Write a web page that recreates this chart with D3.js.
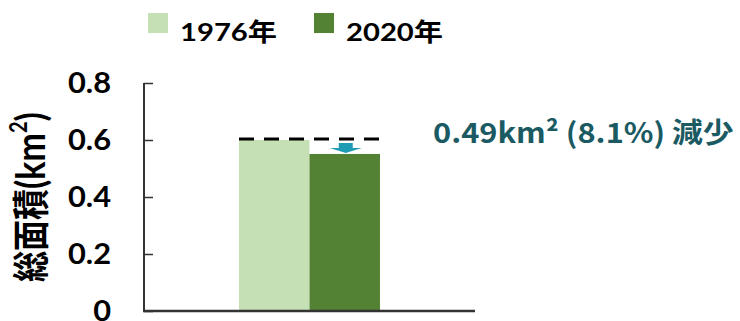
<!DOCTYPE html>
<html><head><meta charset="utf-8">
<script src="https://cdn.jsdelivr.net/npm/d3@7"></script>
<style>body{margin:0;background:#fff}svg{display:block}</style>
</head><body><svg id="c" width="740" height="321"></svg>
<script>
const categories = ["総面積"];
const seriesNames = ["1976年", "2020年"];
const seriesColors = ["#c5e0b4", "#548235"];
const values1976 = [0.60];
const values2020 = [0.551];
const yTicks = [0, 0.2, 0.4, 0.6, 0.8];
const yTickLabels = ["0", "0.2", "0.4", "0.6", "0.8"];
const annotation = "0.49km² (8.1%) 減少";

const svg = d3.select("#c");
const latin = "Lato, 'Noto Sans CJK JP', sans-serif";
const cjk = "'Noto Sans CJK JP', sans-serif";
const y = d3.scaleLinear().domain([0, 0.8]).range([311, 83]);
const x0 = d3.scaleBand().domain(categories).range([144, 475]).paddingInner(0).paddingOuter(0.674);
const x1 = d3.scaleBand().domain(seriesNames).range([0, x0.bandwidth()]);
const series = [values1976, values2020];

// bars
categories.forEach((c, ci) => {
  seriesNames.forEach((s, si) => {
    svg.append("rect")
      .attr("x", x0(c) + x1(s)).attr("width", x1.bandwidth())
      .attr("y", y(series[si][ci])).attr("height", y(0) - y(series[si][ci]))
      .attr("fill", seriesColors[si]);
  });
});

// axes
const yAxis = d3.axisRight(y).tickValues(yTicks).tickSize(9).tickFormat("");
const gy = svg.append("g").attr("transform", "translate(144,0)").call(yAxis);
gy.select(".domain").attr("stroke", "#333").attr("stroke-width", 2).attr("d", "M0,83V311");
gy.selectAll(".tick line").attr("stroke", "#333").attr("stroke-width", 1.5);
svg.append("line").attr("x1", 143).attr("x2", 475).attr("y1", y(0)).attr("y2", y(0))
  .attr("stroke", "#333").attr("stroke-width", 2.5);

svg.selectAll(".ytl").data(yTicks).enter().append("text")
  .attr("transform", d => `translate(111,${y(d)}) scale(1.1,1)`)
  .attr("dy", "0.36em")
  .attr("text-anchor", "end").attr("font-family", latin).attr("font-weight", 700)
  .attr("font-size", 28).attr("fill", "#000")
  .text((d, i) => yTickLabels[i]);

// y title
const yt = svg.append("text").attr("transform", "translate(32,197) scale(1.2,1) rotate(-90)")
  .attr("text-anchor", "middle").attr("dy", "0.35em")
  .attr("font-family", cjk).attr("font-weight", 700).attr("font-size", 31).attr("fill", "#000");
yt.append("tspan").text("総面積");
yt.append("tspan").attr("font-family", latin).attr("font-size", 34).text("(km");
yt.append("tspan").attr("font-family", latin).attr("font-size", 20).attr("dy", "-0.75em").text("2");
yt.append("tspan").attr("font-family", latin).attr("font-size", 34).attr("dy", "0.44em").text(")");

// dashed reference line at 1976 value
const cat = categories[0];
svg.append("line").attr("x1", x0(cat)).attr("x2", x0(cat) + x0.bandwidth() + 1)
  .attr("y1", y(values1976[0]) - 1).attr("y2", y(values1976[0]) - 1)
  .attr("stroke", "#000").attr("stroke-width", 3).attr("stroke-dasharray", "15,10");

// arrow
const ax = x0(cat) + x1(seriesNames[1]) + x1.bandwidth() / 2 + 1;
const aTop = y(values1976[0]) + 3, aBot = y(values2020[0]) - 1;
const aMid = aTop + (aBot - aTop) * 0.5;
svg.append("path")
  .attr("d", `M${ax-7},${aTop}H${ax+7}V${aMid}H${ax+16}L${ax},${aBot}L${ax-16},${aMid}H${ax-7}Z`)
  .attr("fill", "#1f9bb3");

// annotation
svg.append("text").attr("transform", "translate(433,143) scale(1.1,1)")
  .attr("font-family", cjk).attr("font-weight", 700).attr("font-size", 28).attr("fill", "#1b5a62")
  .text(annotation);

// legend
const legX = [148, 314];
seriesNames.forEach((s, i) => {
  svg.append("rect").attr("x", legX[i]).attr("y", 13).attr("width", 20).attr("height", 20).attr("fill", seriesColors[i]);
  svg.append("text").attr("transform", `translate(${legX[i] + 32},41) scale(1.17,1)`)
    .attr("font-family", latin).attr("font-weight", 700).attr("font-size", 25).attr("fill", "#000").text(s);
});
</script></body></html>
